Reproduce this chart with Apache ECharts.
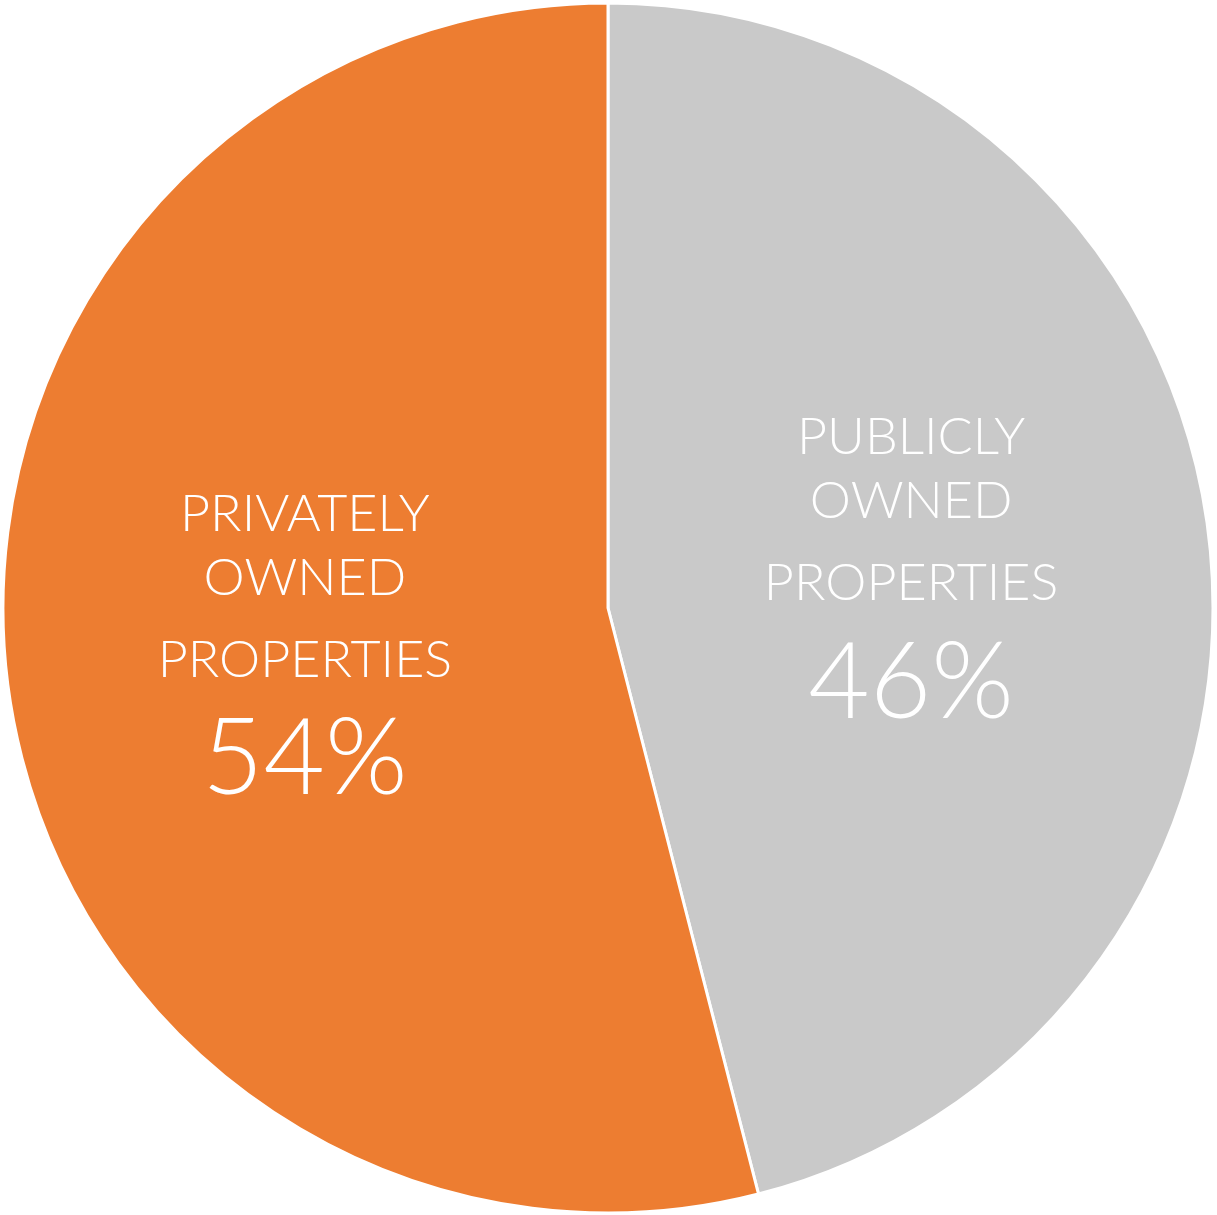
<!DOCTYPE html>
<html>
<head>
<meta charset="utf-8">
<script src="https://cdn.jsdelivr.net/npm/echarts@6/dist/echarts.min.js"></script>
<style>
    html, body { margin: 0; padding: 0; background: #fff; }
    #chart { width: 1217px; height: 1215px; }
</style>
</head>
<body>
<div id="chart"></div>
<script>
// 数据
const categories = ['PUBLICLY OWNED PROPERTIES', 'PRIVATELY OWNED PROPERTIES'];
const shares = [46, 54];
const colors = ['#C9C9C9', '#ED7D31'];

const chart = echarts.init(document.getElementById('chart'));

// 名称拆成三行：前两个词各一行，最后一个词单独一行
function labelText(p) {
    const words = p.name.split(' ');
    return '{a|' + words[0] + '}\n{a|' + words[1] + '}\n{p|' + words.slice(2).join(' ') + '}\n{v|' + p.value + '%}';
}

const option = {
    animation: false,
    backgroundColor: '#fff',
    series: [{
        type: 'pie',
        center: [608, 608],
        radius: 605,
        startAngle: 90,
        clockwise: true,
        itemStyle: {
            borderColor: '#fff',
            borderWidth: 3
        },
        label: {
            show: true,
            position: 'inside',
            color: '#fff',
            fontFamily: 'Lato',
            fontWeight: 300,
            formatter: labelText,
            rich: {
                a: { fontSize: 52, lineHeight: 64, color: '#fff', fontFamily: 'Lato', fontWeight: 300 },
                p: { fontSize: 52, lineHeight: 100, color: '#fff', fontFamily: 'Lato', fontWeight: 300 },
                v: { fontSize: 106, lineHeight: 100, color: '#fff', fontFamily: 'Lato', fontWeight: 300 }
            }
        },
        labelLine: { show: false },
        emphasis: { disabled: true },
        data: categories.map((name, i) => ({
            name: name,
            value: shares[i],
            itemStyle: { color: colors[i] }
        }))
    }]
};

chart.setOption(option);
</script>
</body>
</html>
